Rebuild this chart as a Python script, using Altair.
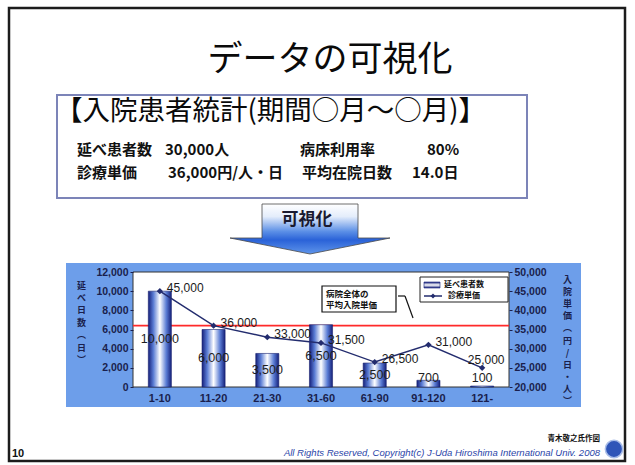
import altair as alt
import pandas as pd

# ---------------- data ----------------
categories = ["1-10", "11-20", "21-30", "31-60", "61-90", "91-120", "121-"]
patient_days = [10000, 6000, 3500, 6500, 2500, 700, 100]
unit_price = [45000, 36000, 33000, 31500, 26500, 31000, 25000]
avg_unit_price = [36000]
left_ticks = [0, 2000, 4000, 6000, 8000, 10000, 12000]
right_ticks = [20000, 25000, 30000, 35000, 40000, 45000, 50000]
left_title = ["延", "べ", "日", "数", "︵", "日", "︶"]
right_title = ["入", "院", "単", "価", "︵", "円", "/", "日", "・", "人", "︶"]
legend_labels = ["延べ患者数", "診療単価"]
note_lines = ["病院全体の", "平均入院単価"]
slide_title = "データの可視化"
box_header = "【入院患者統計(期間○月～○月)】"
stats_row1 = ["延べ患者数", "30,000人", "病床利用率", "80%"]
stats_row2 = ["診療単価", "36,000円/人・日", "平均在院日数", "14.0日"]
arrow_label = "可視化"
footer_copy = "All Rights Reserved, Copyright(c) J-Uda Hiroshima International Univ. 2008"
footer_author = "青木敬之氏作図"
page_no = "10"

df = pd.DataFrame({"cat": categories, "days": patient_days, "price": unit_price})
avg_df = pd.DataFrame({"avg": avg_unit_price})
one = pd.DataFrame({"k": [0]})

# ---------------- layout ----------------
OX, OY = 133, 272          # plot-area origin on the page
W, H = 376, 115            # plot-area size
JP = "Noto Sans CJK JP"
LAT = "Liberation Sans"
AX = "#1a1f4d"
NAVY = "#232c6e"


def px(x):
    return x - OX


def py(y):
    return y - OY


def text(s, x, y, size, weight="normal", align="left", color="#111111",
         font=JP, style="normal", baseline="middle"):
    return alt.Chart(one).mark_text(
        text=s, fontSize=size, fontWeight=weight, align=align, baseline=baseline,
        color=color, font=font, fontStyle=style
    ).encode(x=alt.value(px(x)), y=alt.value(py(y)))


def box(x1, y1, x2, y2, fill="transparent", stroke=None, sw=1.0):
    kw = dict(fill=fill)
    if stroke is not None:
        kw.update(stroke=stroke, strokeWidth=sw)
    return alt.Chart(one).mark_rect(**kw).encode(
        x=alt.value(px(x1)), x2=alt.value(px(x2)),
        y=alt.value(py(y1)), y2=alt.value(py(y2)))


def seg(x1, y1, x2, y2, color="#111111", sw=1.0):
    return alt.Chart(one).mark_rule(color=color, strokeWidth=sw).encode(
        x=alt.value(px(x1)), x2=alt.value(px(x2)),
        y=alt.value(py(y1)), y2=alt.value(py(y2)))


# ---------------- encodings ----------------
xenc = alt.X("cat:N", sort=categories,
             scale=alt.Scale(paddingInner=0.57, paddingOuter=0.285),
             axis=alt.Axis(title=None, labelAngle=0, ticks=False, domain=False,
                           labelFont=LAT, labelFontSize=11, labelFontWeight="bold",
                           labelColor=AX, labelPadding=5, zindex=1))

left_axis = alt.Axis(orient="left", values=left_ticks, format=",.0f", grid=False,
                     domain=False, tickSize=3, tickColor=AX, labelFont=LAT,
                     labelFontSize=10.5, labelFontWeight="bold", labelColor=AX,
                     labelPadding=2, title=left_title, titleAngle=0, titleX=-52,
                     titleY=9, titleAlign="center", titleBaseline="top",
                     titleFont=JP, titleFontSize=9, titleFontWeight="bold",
                     titleColor=AX, titleLineHeight=12.4, zindex=1)
left_scale = alt.Scale(domain=[0, 12000], nice=False, zero=True)

right_axis = alt.Axis(orient="right", values=right_ticks, format=",.0f", grid=False,
                      domain=False, tickSize=3, tickColor=AX, labelFont=LAT,
                      labelFontSize=10.5, labelFontWeight="bold", labelColor=AX,
                      labelPadding=2, title=right_title, titleAngle=0, titleX=58,
                      titleY=3, titleAlign="center", titleBaseline="top",
                      titleFont=JP, titleFontSize=9, titleFontWeight="bold",
                      titleColor=AX, titleLineHeight=12.2, zindex=1)
right_scale = alt.Scale(domain=[20000, 50000], nice=False, zero=False)

# ---------------- gradients ----------------
bar_grad = alt.Gradient(gradient="linear", x1=0, x2=1, y1=0, y2=0, stops=[
    alt.GradientStop(color="#15207a", offset=0),
    alt.GradientStop(color="#5a7cd4", offset=0.22),
    alt.GradientStop(color="#ffffff", offset=0.5),
    alt.GradientStop(color="#5a7cd4", offset=0.78),
    alt.GradientStop(color="#15207a", offset=1)])
legend_bar_grad = alt.Gradient(gradient="linear", x1=0, x2=0, y1=0, y2=1, stops=[
    alt.GradientStop(color="#15207a", offset=0),
    alt.GradientStop(color="#ffffff", offset=0.5),
    alt.GradientStop(color="#15207a", offset=1)])
arrow_grad = alt.Gradient(gradient="linear", x1=0, x2=0, y1=0, y2=1, stops=[
    alt.GradientStop(color="#ffffff", offset=0),
    alt.GradientStop(color="#e4edfb", offset=0.25),
    alt.GradientStop(color="#5b8fe6", offset=0.55),
    alt.GradientStop(color="#2a62d8", offset=0.72),
    alt.GradientStop(color="#5f95ea", offset=1)])

# ---------------- background decorations ----------------
bg = [
    box(66, 263, 581, 407, fill="#6d9eea"),
    box(OX, OY, OX + W, OY + H, fill="#ffffff", stroke="#333333", sw=1),
]

# ---------------- data layers ----------------
avg_rule = alt.Chart(avg_df).mark_rule(color="#ff2a2a", strokeWidth=1.6).encode(
    y=alt.Y("avg:Q", scale=right_scale, axis=None))

bars = alt.Chart(df).mark_bar(fill=bar_grad, stroke="#1a2470", strokeWidth=0.6).encode(
    x=xenc, y=alt.Y("days:Q", scale=left_scale, axis=left_axis))
bar_labels = alt.Chart(df).transform_calculate(
    ly="max(datum.days / 2, 950)"
).mark_text(font=LAT, fontSize=12.5, color="#1e1e1e", baseline="middle").encode(
    x=xenc, y=alt.Y("ly:Q", scale=left_scale, axis=left_axis),
    text=alt.Text("days:Q", format=","))
bar_group = alt.layer(bars, bar_labels)

yR = alt.Y("price:Q", scale=right_scale, axis=right_axis)
line = alt.Chart(df).mark_line(color=NAVY, strokeWidth=1.5).encode(x=xenc, y=yR)
pts = alt.Chart(df).mark_point(shape="diamond", filled=True, size=40, color=NAVY,
                               opacity=1).encode(x=xenc, y=yR)
line_labels = alt.Chart(df).transform_filter(
    alt.datum.cat != categories[-1]
).mark_text(align="left", dx=7, dy=-3, font=LAT, fontSize=12, color="#1a1a1a").encode(
    x=xenc, y=yR, text=alt.Text("price:Q", format=","))
last_label = alt.Chart(df).transform_filter(
    alt.datum.cat == categories[-1]
).mark_text(align="center", dx=4, dy=-8, font=LAT, fontSize=12, color="#1a1a1a").encode(
    x=xenc, y=yR, text=alt.Text("price:Q", format=","))
line_group = alt.layer(line, pts, line_labels, last_label)

# ---------------- foreground decorations ----------------
ARROW = "M-0.6,-0.425L0.6,-0.425L0.6,0L1,0L0,0.2L-1,0L-0.6,0Z"
fg = [
    # slide frame
    box(9, 8, 625, 461, fill="transparent", stroke="#1c1c1c", sw=2.5),
    # title
    text(slide_title, 330, 60, 35, align="center", color="#0a0a0a"),
    # statistics box
    box(57, 95, 527, 198, fill="transparent", stroke="#7c84b8", sw=2),
    text(box_header, 55, 112, 27.5, color="#0a0a0a"),
    text(stats_row1[0], 77, 150, 15, weight="bold"),
    text(stats_row1[1], 165, 150, 15, weight="bold"),
    text(stats_row1[2], 300, 150, 15, weight="bold"),
    text(stats_row1[3], 427, 150, 15, weight="bold"),
    text(stats_row2[0], 77, 173, 15, weight="bold"),
    text(stats_row2[1], 168, 173, 15, weight="bold"),
    text(stats_row2[2], 302, 173, 15, weight="bold"),
    text(stats_row2[3], 412, 173, 15, weight="bold"),
    # arrow
    alt.Chart(one).mark_point(shape=ARROW, size=25600, filled=True, fill=arrow_grad,
                              stroke="#4a4a4a", strokeWidth=0.8, opacity=1).encode(
        x=alt.value(px(310)), y=alt.value(py(238))),
    text(arrow_label, 307, 220, 17, weight="bold", align="center", color="#1a1a30"),
    # annotation box + callout
    box(322, 286, 396, 312, fill="#ffffff", stroke="#111111", sw=1.2),
    text(note_lines[0], 326, 294, 8.5, weight="bold"),
    text(note_lines[1], 326, 305, 8.5, weight="bold"),
    seg(398, 296, 405, 296, sw=1.2),
    seg(405, 296, 413, 318, sw=1.2),
    # legend
    box(420, 277, 508, 302, fill="#ffffff", stroke="#222222", sw=1),
    alt.Chart(one).mark_rect(fill=legend_bar_grad, stroke="#15207a", strokeWidth=0.6).encode(
        x=alt.value(px(424)), x2=alt.value(px(440)), y=alt.value(py(282)), y2=alt.value(py(288))),
    text(legend_labels[0], 444, 285, 8, weight="bold"),
    seg(424, 296, 442, 296, color=NAVY, sw=1.5),
    alt.Chart(one).mark_point(shape="diamond", filled=True, size=25, color=NAVY, opacity=1).encode(
        x=alt.value(px(433)), y=alt.value(py(296))),
    text(legend_labels[1], 448, 296, 8, weight="bold"),
    # footer
    text(page_no, 12, 454, 11, weight="bold", font=LAT),
    text(footer_author, 600, 439, 7.5, weight="bold", align="right"),
    text(footer_copy, 600, 453, 9.5, align="right", font=LAT, style="italic", color="#2a45a8"),
    alt.Chart(one).mark_point(shape="circle", filled=True, size=300, color="#2f55b8",
                              stroke="#a9bde8", strokeWidth=1.5, opacity=1).encode(
        x=alt.value(px(614)), y=alt.value(py(449))),
]

chart = alt.layer(*bg, avg_rule, bar_group, line_group, *fg).resolve_scale(
    y="independent"
).properties(
    width=W, height=H,
    autosize=alt.AutoSizeParams(type="none"),
    padding={"left": OX, "top": OY, "right": 635 - OX - W, "bottom": 465 - OY - H},
    background="#ffffff",
).configure_view(strokeWidth=0)

chart.save("out.html", embed_options={"renderer": "svg", "actions": False})
